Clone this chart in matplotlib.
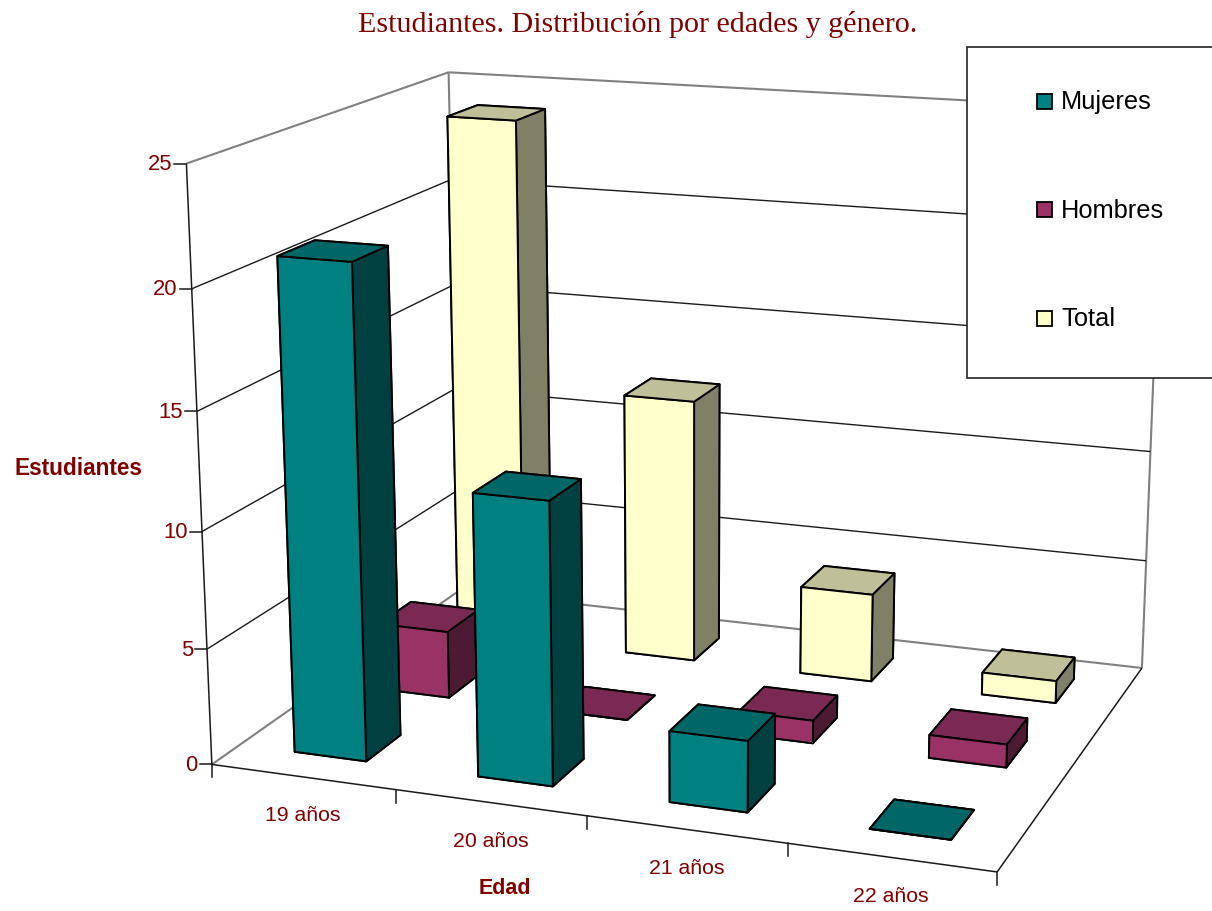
import numpy as np
import matplotlib
matplotlib.use('Agg')
import matplotlib.pyplot as plt
from matplotlib.patches import Rectangle
from mpl_toolkits.mplot3d.art3d import Line3DCollection

categories = ['19 años', '20 años', '21 años', '22 años']
series_names = ['Mujeres', 'Hombres', 'Total']
mujeres = [21, 12, 3, 0]
hombres = [3, 0, 1, 1]
total = [24, 12, 4, 1]
z_ticks = [0, 5, 10, 15, 20, 25]

# colours per series: front, top, side
face_colors = {'Mujeres': ('#008080', '#006666', '#004040'),
               'Hombres': ('#993366', '#7A2952', '#4D1A33'),
               'Total': ('#FFFFCC', '#BFBF99', '#808066')}
TEXT = '#800000'
W, H = 1212, 911

# box corners (category, row, value) and where they sit on the canvas, in pixels
box_world = np.array([[0, 0, 0], [4, 0, 0], [4, 3, 0], [0, 3, 0],
                      [0, 0, 25], [0, 3, 25], [4, 3, 25]], dtype=float)
box_pixel = np.array([[211, 764], [997.5, 872], [1141.5, 668], [460, 591],
                      [187, 164], [448, 72], [1164, 111]], dtype=float)


def fit_camera(world, pixel):
    # direct linear transform, returns a 3x4 projective camera
    rows = []
    for (x, y, z), (u, v) in zip(world * [1, 1, 1 / 25], pixel / 1000):
        rows.append([x, y, z, 1, 0, 0, 0, 0, -u * x, -u * y, -u * z, -u])
        rows.append([0, 0, 0, 0, x, y, z, 1, -v * x, -v * y, -v * z, -v])
    cam = np.linalg.svd(np.array(rows))[2][-1].reshape(3, 4)
    cam = np.diag([1000, 1000, 1]) @ cam @ np.diag([1, 1, 1 / 25, 1])
    if cam[2] @ [0, 0, 0, 1] < 0:
        cam = -cam
    return cam


cam = fit_camera(box_world, box_pixel)
# depth row gives -1/w, so faces further away sort first
M = np.vstack([cam[0], cam[1], [0, 0, 0, -1], cam[2]])


def project(x, y, z):
    p = cam @ [x, y, z, 1]
    return p[0] / p[2], p[1] / p[2]


fig = plt.figure(figsize=(W / 100, H / 100), dpi=100, facecolor='white')
side = W / H
ax = fig.add_axes([0, (1 - side) / 2, 1, side], projection='3d', computed_zorder=False)
ax.set_axis_off()
ax.get_proj = lambda: M

GRAY = '#808080'
DARK = '#1a1a1a'
# wall and floor outlines
outline = [[(0, 0, 25), (0, 3, 25)], [(0, 3, 25), (4, 3, 25)],
           [(0, 3, 0), (0, 3, 25)], [(4, 3, 0), (4, 3, 25)],
           [(0, 0, 0), (0, 3, 0)], [(0, 3, 0), (4, 3, 0)]]
ax.add_collection3d(Line3DCollection(outline, colors=GRAY, linewidths=1.5, zorder=1))
front_edges = [[(0, 0, 0), (0, 0, 25)], [(0, 0, 0), (4, 0, 0)], [(4, 0, 0), (4, 3, 0)]]
ax.add_collection3d(Line3DCollection(front_edges, colors=DARK, linewidths=1.1, zorder=1))

# grid lines on both walls
grid = []
for v in z_ticks[1:-1]:
    grid.append([(0, 0, v), (0, 3, v), (4, 3, v)])
ax.add_collection3d(Line3DCollection(grid, colors=DARK, linewidths=1, zorder=1))

# bars, back row first
BAR_X, BAR_W = 0.305, 0.395
BAR_Y, BAR_D = 0.30, 0.40
series_values = [mujeres, hombres, total]
order = 10
for row in [2, 1, 0]:
    front, top, sidec = face_colors[series_names[row]]
    # -Z, +Z, -Y, +Y, -X, +X
    colors = [top, top, front, front, sidec, sidec]
    for i, val in enumerate(series_values[row]):
        ax.bar3d([i + BAR_X], [row + BAR_Y], [0], BAR_W, BAR_D, val, color=colors,
                 shade=False, edgecolor='black', linewidth=1.4, zorder=order)
        order += 1

ax.viewLim.intervalx = (0, W)
ax.viewLim.intervaly = (H + (W - H) / 2, -(W - H) / 2)

# labels and legend are laid out in pixels on top of the 3d scene
top_ax = fig.add_axes([0, 0, 1, 1], facecolor='none')
top_ax.set_xlim(0, W)
top_ax.set_ylim(H, 0)
top_ax.axis('off')

sans = 'Liberation Sans'
top_ax.text(638, 25, 'Estudiantes. Distribución por edades y género.', color=TEXT,
            family='Liberation Serif', fontsize=21.6, ha='center', va='center')

for v in z_ticks:
    px, py = project(0, 0, v)
    top_ax.plot([px - 12, px], [py, py], color=DARK, lw=1.1)
    top_ax.text(px - 14, py + 1, str(v), color=TEXT, family=sans, fontsize=15.8,
                ha='right', va='center')

for i in range(len(categories) + 1):
    px, py = project(i, 0, 0)
    top_ax.plot([px, px], [py, py + 13], color=DARK, lw=1.1)

for i, name in enumerate(categories):
    px, py = project(i + 0.5, 0, 0)
    top_ax.text(px, py + 39, name, color=TEXT, family=sans, fontsize=15.3,
                ha='center', va='center')

top_ax.text(78, 468.5, 'Estudiantes', color=TEXT, family=sans, fontsize=16.3,
            fontweight='bold', ha='center', va='center')
top_ax.text(505, 888, 'Edad', color=TEXT, family=sans, fontsize=15.5,
            fontweight='bold', ha='center', va='center')

top_ax.add_patch(Rectangle((967, 47), 300, 331, facecolor='white',
                           edgecolor='#222222', lw=1.2, zorder=5))
legend_y = [101, 209, 318]
for name, ly in zip(series_names, legend_y):
    top_ax.add_patch(Rectangle((1037, ly - 7), 15, 15, facecolor=face_colors[name][0],
                               edgecolor='black', lw=1.3, zorder=6))
    top_ax.text(1061, ly + 1.5, name, color='black', family=sans, fontsize=18.3,
                ha='left', va='center', zorder=6)

fig.savefig('out.png', dpi=100)
